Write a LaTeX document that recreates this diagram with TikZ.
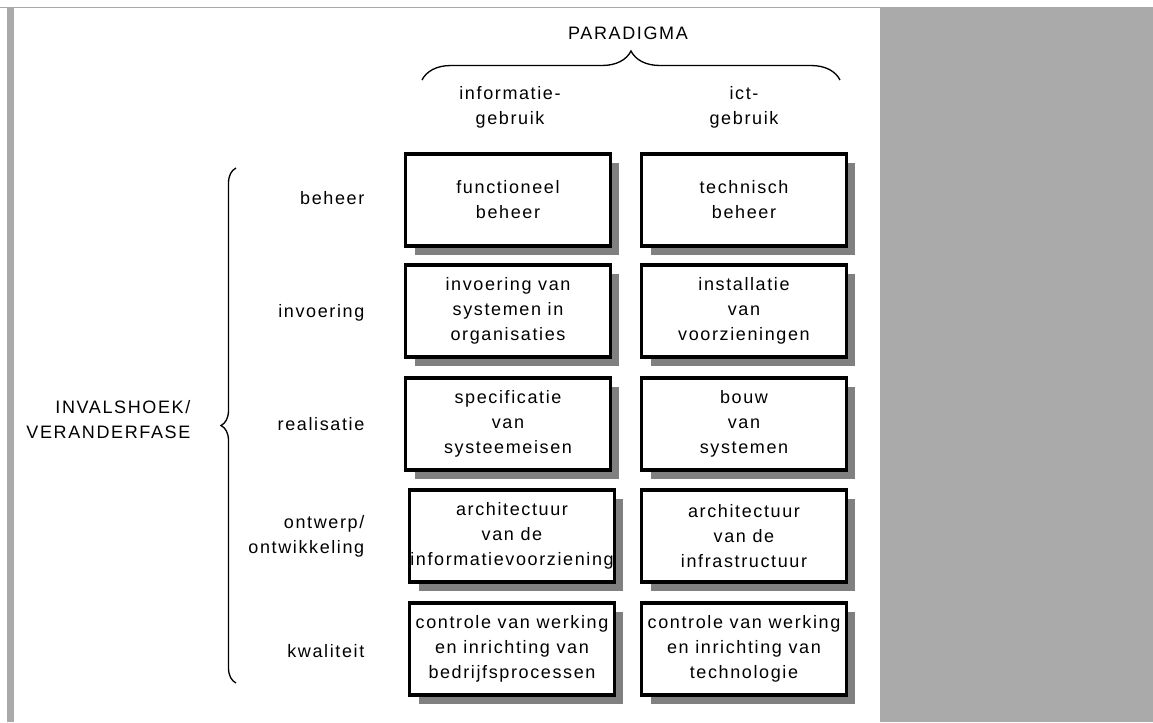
\documentclass[tikz,border=0pt]{standalone}
\usepackage{fontspec}
\setmainfont{Liberation Sans}[LetterSpace=9]
\usetikzlibrary{decorations.pathreplacing,shadows}

\definecolor{kader}{RGB}{170,170,170}
\definecolor{schaduw}{RGB}{128,128,128}

\begin{document}
\begin{tikzpicture}[x=0.75pt,y=-0.75pt,
    every node/.style={font=\fontsize{13.5}{18.75}\selectfont},
    cel/.style={draw,line width=2.6pt,fill=white,minimum width=153.5pt,minimum height=68.75pt,
        inner sep=0pt,align=center,
        drop shadow={shadow xshift=6.75pt,shadow yshift=-6.75pt,fill=schaduw,opacity=1}},
    fase/.style={anchor=east,align=right},
    accolade/.style={line width=1pt,decorate,decoration={brace,amplitude=#1}}]
        \useasboundingbox (0,0) rectangle (1153,722);

        % rand
        \fill[kader] (7,7) rectangle (14,722);
        \fill[kader] (880,7) rectangle (1153,722);
        \draw[kader, line width=0.75pt] (0,7) -- (1153,7);

        % paradigma
        \node (par) at (628,33) {PARADIGMA};
        \coordinate (parL) at (422,80);
        \coordinate (parR) at (840,80);
        \draw[accolade=21.75pt] (parL) -- (parR);
        \node[align=center] (infg) at (510,107) {informatie-\\gebruik};
        \node[align=center] (ictg) at (744,107) {ict-\\gebruik};

        % invalshoek
        \node[fase] (inv) at (195,420) {INVALSHOEK/\\VERANDERFASE};
        \coordinate (invB) at (236,683);
        \coordinate (invT) at (236,168);
        \draw[accolade=11.25pt] (invB) -- (invT);

        \node[fase] (lbBeheer) at (369,198) {beheer};
        \node[fase] (lbInvoering) at (369,313) {invoering};
        \node[fase] (lbRealisatie) at (369,424) {realisatie};
        \node[fase] (lbOntwerp) at (369,536) {ontwerp/\\ontwikkeling};
        \node[fase] (lbKwaliteit) at (369,651) {kwaliteit};

        % informatiegebruik
        \node[cel] (fb)  at (508,200) {functioneel\\beheer};
        \node[cel] (ivs) at (508,311) {invoering van\\systemen in\\organisaties};
        \node[cel] (svs) at (508,424) {specificatie\\van\\systeemeisen};
        \node[cel] (ai)  at (512,536) {architectuur\\van de\\informatievoorziening};
        \node[cel] (cib) at (512,649) {controle van werking\\en inrichting van\\bedrijfsprocessen};

        % ict-gebruik
        \node[cel] (tb)  at (744,200) {technisch\\beheer};
        \node[cel] (iv)  at (744,311) {installatie\\van\\voorzieningen};
        \node[cel] (bs)  at (744,424) {bouw\\van\\systemen};
        \node[cel] (aif) at (744,536) {architectuur\\van de\\infrastructuur};
        \node[cel] (cit) at (744,649) {controle van werking\\en inrichting van\\technologie};
\end{tikzpicture}
\end{document}
